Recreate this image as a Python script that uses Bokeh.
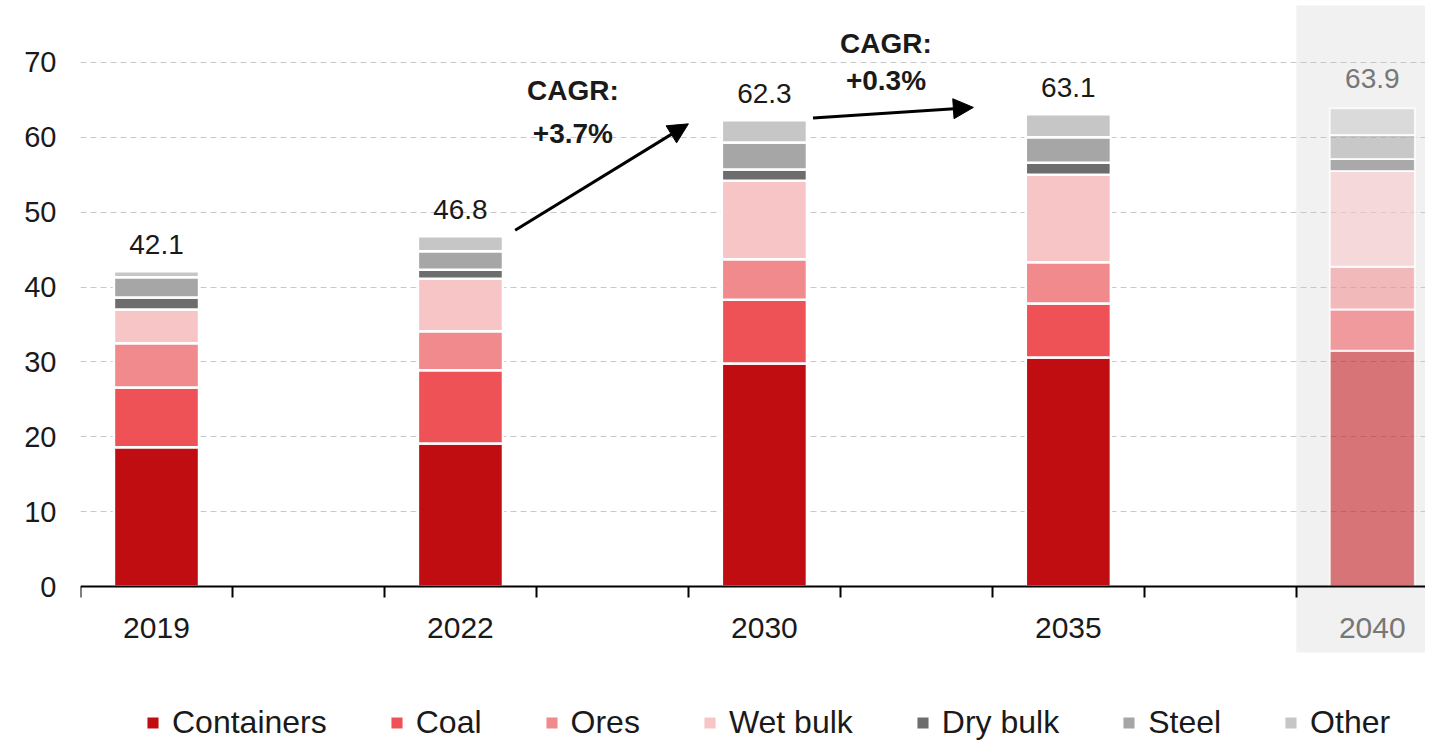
from bokeh.plotting import figure
from bokeh.models import (Range1d, FixedTicker, ColumnDataSource, Arrow, NormalHead,
                          Legend, LegendItem, LinearAxis)
from bokeh.core.properties import value
from bokeh.embed import file_html
from bokeh.resources import INLINE

# ---------------- data ----------------
years = ["2019", "2022", "2030", "2035", "2040"]
containers = [18.6, 19.1, 29.8, 30.6, 31.5]
coal = [8.0, 9.8, 8.5, 7.2, 5.5]
ores = [5.9, 5.2, 5.4, 5.5, 5.7]
wet_bulk = [4.5, 7.0, 10.5, 11.7, 12.8]
dry_bulk = [1.6, 1.2, 1.5, 1.6, 1.6]
steel = [2.7, 2.5, 3.6, 3.4, 3.2]
other = [0.8, 2.0, 3.0, 3.1, 3.6]
totals = [42.1, 46.8, 62.3, 63.1, 63.9]
cagr_labels = ["+3.7%", "+0.3%"]
y_ticks = [0, 10, 20, 30, 40, 50, 60, 70]

series = ["Containers", "Coal", "Ores", "Wet bulk", "Dry bulk", "Steel", "Other"]
keys = ["containers", "coal", "ores", "wet_bulk", "dry_bulk", "steel", "other"]
colors = ["#C00D12", "#EE5257", "#F08A8C", "#F8C5C7", "#6D6D6D", "#A6A6A6", "#C6C6C6"]
values = [containers, coal, ores, wet_bulk, dry_bulk, steel, other]

FONT = "Liberation Sans"
TXT = "#1A1A1A"
GREY_TXT = "#777777"

# slot positions: each year sits in every second slot
xpos = [2 * i + 0.5 for i in range(len(years))]
hist = list(range(len(years) - 1))   # 2019..2035
fcst = [len(years) - 1]              # 2040 (faded)

def make_source(idx):
    d = {"x": [xpos[i] for i in idx], "year": [years[i] for i in idx]}
    for k, v in zip(keys, values):
        d[k] = [v[i] for i in idx]
    return ColumnDataSource(d)

src_hist = make_source(hist)
src_fcst = make_source(fcst)

x_end = 8.85
y_top = 78.28
p = figure(width=1425, height=740, output_backend="svg", toolbar_location=None,
           x_range=Range1d(0, x_end), y_range=Range1d(-20.57, y_top),
           min_border_left=80, min_border_right=0, min_border_top=0, min_border_bottom=0,
           x_axis_location=None, y_axis_location=None)
p.outline_line_color = None
p.background_fill_color = "white"
p.border_fill_color = "white"

# grey forecast band
band_left = xpos[-1] - 0.5
p.quad(left=[band_left], right=[x_end], bottom=[-8.8], top=[77.6],
       fill_color="#E6E6E6", fill_alpha=0.55, line_color=None, level="underlay")

# grid
p.xgrid.visible = False
p.ygrid.ticker = FixedTicker(ticks=y_ticks[1:])
p.ygrid.grid_line_color = "#C8C8C8"
p.ygrid.grid_line_dash = "6 4"
p.ygrid.grid_line_width = 1

# bars
bar_w = 0.56
rs = p.vbar_stack(keys, x="x", width=bar_w, source=src_hist, color=colors,
                  line_color="white", line_width=2.5)
p.vbar_stack(keys, x="x", width=bar_w, source=src_fcst, fill_color=colors,
             fill_alpha=0.55, line_color="white", line_width=2.0, line_alpha=0.8)

# value labels
p.text(x=xpos[:-1], y=totals[:-1], text=[f"{t:.1f}" for t in totals[:-1]],
       text_align="center", text_baseline="middle", y_offset=-27,
       text_font=value(FONT), text_font_size="28px", text_color=TXT)
p.text(x=xpos[-1:], y=totals[-1:], text=[f"{t:.1f}" for t in totals[-1:]],
       text_align="center", text_baseline="middle", y_offset=-30,
       text_font=value(FONT), text_font_size="28px", text_color=GREY_TXT)

# CAGR arrows
head = dict(size=20, fill_color="black", line_color="black")
p.add_layout(Arrow(end=NormalHead(**head), x_start=xpos[1] + 0.36, y_start=totals[1] + 0.8,
                   x_end=xpos[2] - 0.5, y_end=totals[2] - 0.5, line_width=3, line_color="black"))
p.add_layout(Arrow(end=NormalHead(**head), x_start=xpos[2] + 0.32, y_start=totals[2] + 0.3,
                   x_end=xpos[3] - 0.625, y_end=totals[3] + 0.9, line_width=3, line_color="black"))

cx = [xpos[1] + 0.74, xpos[2] + 0.80]
cy1 = [66.3, 72.5]
cy2 = [60.5, 67.6]
p.text(x=cx, y=cy1, text=["CAGR:", "CAGR:"], text_align="center", text_baseline="middle",
       text_font=value(FONT), text_font_size="28px", text_font_style="bold", text_color=TXT)
p.text(x=cx, y=cy2, text=cagr_labels, text_align="center", text_baseline="middle",
       text_font=value(FONT), text_font_size="28px", text_font_style="bold", text_color=TXT)

# y axis
yax = LinearAxis(ticker=FixedTicker(ticks=y_ticks))
yax.axis_line_color = None
yax.major_tick_line_color = None
yax.minor_tick_line_color = None
yax.major_label_text_font = FONT
yax.major_label_text_font_size = "29px"
yax.major_label_text_color = TXT
yax.major_label_standoff = 18
p.add_layout(yax, "left")

# x axis line with ticks at slot boundaries
xax = LinearAxis(ticker=FixedTicker(ticks=list(range(0, 9))), fixed_location=0)
xax.axis_line_color = "black"
xax.axis_line_width = 2
xax.major_tick_line_color = "black"
xax.major_tick_line_width = 2
xax.major_tick_out = 11
xax.major_tick_in = 0
xax.minor_tick_line_color = None
xax.major_label_text_font_size = "0px"
xax.major_label_text_color = None
p.add_layout(xax, "below")

def label_axis(idx, color):
    ax = LinearAxis(ticker=FixedTicker(ticks=[xpos[i] for i in idx]), fixed_location=0)
    ax.axis_line_color = None
    ax.major_tick_line_color = None
    ax.minor_tick_line_color = None
    ax.major_label_overrides = {xpos[i]: years[i] for i in idx}
    ax.major_label_text_font = FONT
    ax.major_label_text_font_size = "30px"
    ax.major_label_text_color = color
    ax.major_label_standoff = 25
    p.add_layout(ax, "below")

label_axis(hist, TXT)
label_axis(fcst, GREY_TXT)

# legend
legend = Legend(items=[LegendItem(label=s, renderers=[r]) for s, r in zip(series, rs)],
                orientation="horizontal", location=(64, -1),
                label_text_font=FONT, label_text_font_size="32px", label_text_color=TXT,
                glyph_width=17, glyph_height=17, label_standoff=11, spacing=61,
                padding=0, margin=0, border_line_color=None, background_fill_alpha=0)
p.add_layout(legend)

open("out.html", "w").write(file_html(p, INLINE))
